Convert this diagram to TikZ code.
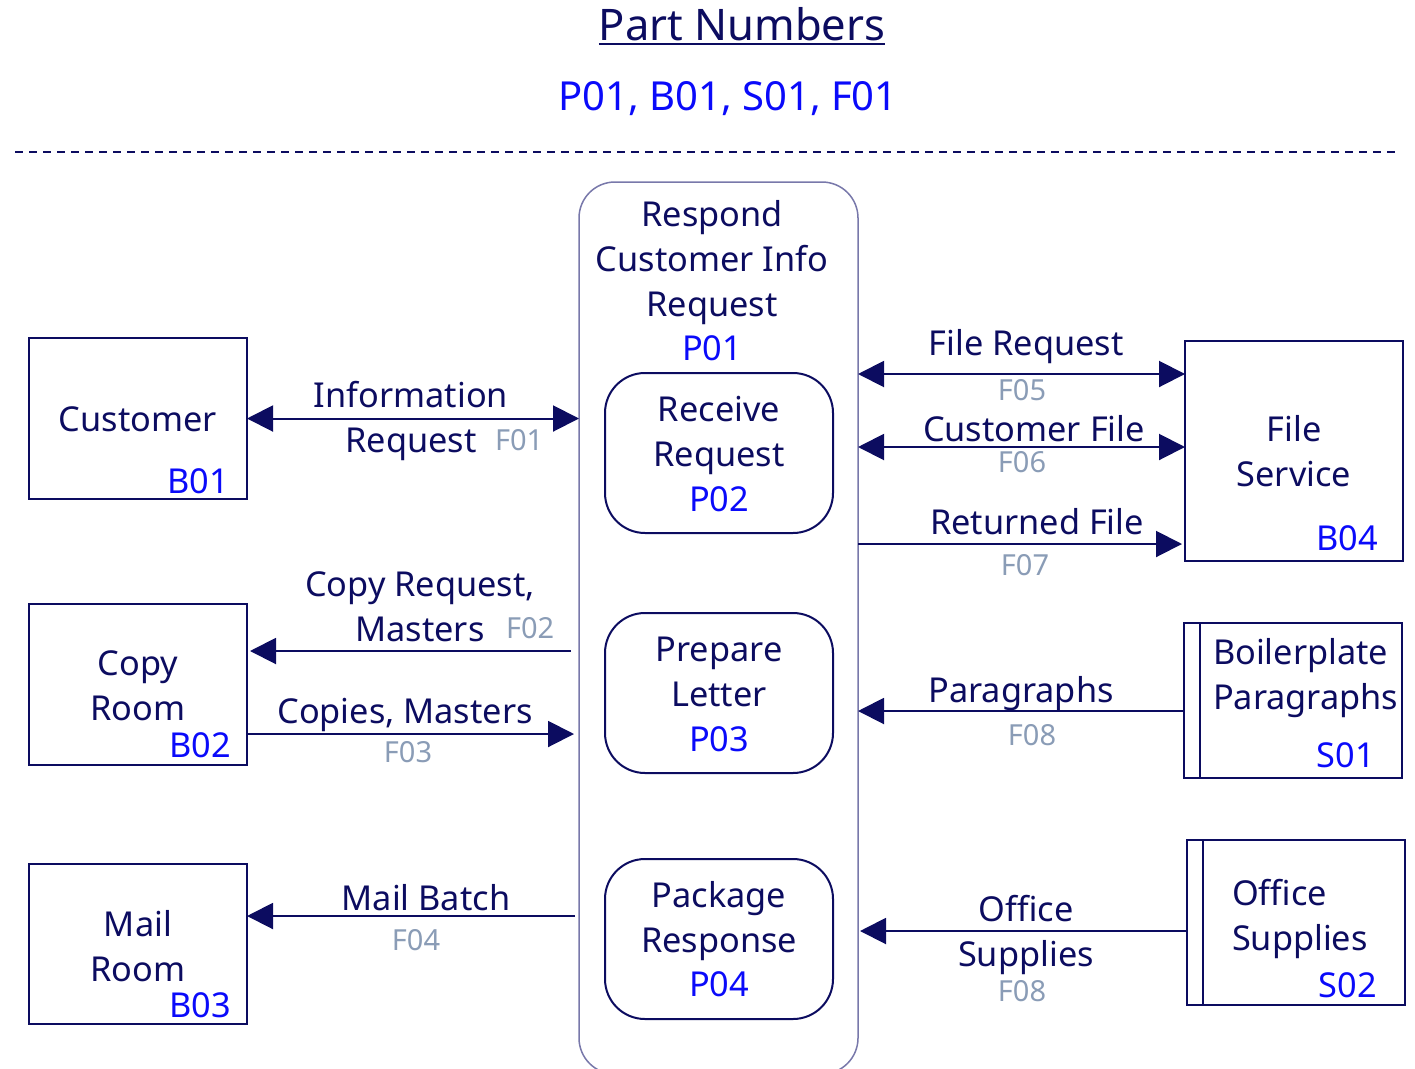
\documentclass[tikz,border=0pt]{standalone}
\usepackage{fontspec}
\setmainfont{Noto Sans}
\usetikzlibrary{arrows.meta}
\definecolor{navy}{RGB}{12,12,96}
\definecolor{codeblue}{RGB}{10,10,250}
\definecolor{fgray}{RGB}{138,156,182}
\definecolor{outerline}{RGB}{120,120,170}
\begin{document}
\begin{tikzpicture}[x=1pt,y=-1pt,
  every node/.style={inner sep=0pt, outer sep=0pt},
  txt/.style={font=\fontsize{34.3}{45}\selectfont, text=navy, align=center, anchor=base},
  code/.style={font=\fontsize{34.3}{45}\selectfont, text=codeblue, anchor=base},
  fcode/.style={font=\fontsize{29}{34}\selectfont, text=fgray, anchor=base},
  ext/.style={draw=navy, line width=2.5pt, minimum width=218pt},
  store/.style={draw=navy, line width=2.5pt, minimum width=218pt},
  proc/.style={draw=navy, line width=2pt, rounded corners=40pt, minimum width=228pt, minimum height=160pt},
  flow/.style={draw=navy, line width=2pt, -{Triangle[length=26pt,width=26pt]}},
  flowb/.style={draw=navy, line width=2pt, {Triangle[length=26pt,width=26pt]}-{Triangle[length=26pt,width=26pt]}},
]
\useasboundingbox (0,0) rectangle (1415,1068);
\clip (0,0) rectangle (1415,1068);

% title
\node[font=\fontsize{43.5}{50}\selectfont, text=navy, anchor=base] (title) at (742,40) {Part Numbers};
\draw[navy, line width=2pt] ([yshift=-4pt]title.base west) -- ([yshift=-4pt]title.base east);
\node[font=\fontsize{40}{45}\selectfont, text=codeblue, anchor=base] (parts) at (728,110) {P01, B01, S01, F01};
\coordinate (dl) at (15,152);
\coordinate (dr) at (1400,152);
\draw[navy, line width=1.5pt, dash pattern=on 8pt off 6pt] (dl) -- (dr);

% outer process
\node[draw=outerline, line width=1.5pt, rounded corners=36pt, minimum width=279pt, minimum height=892pt] (p01) at (718.5,628) {};
\node[txt] (p01t) at (712,316) {Respond\\Customer Info\\Request};
\node[code] (p01c) at (712,360) {P01};

% inner processes
\node[proc] (p02) at (719,453) {};
\node[txt] (p02t) at (719,466) {Receive\\Request};
\node[code] (p02c) at (719,511) {P02};
\node[proc] (p03) at (719,693) {};
\node[txt] (p03t) at (719,706) {Prepare\\Letter};
\node[code] (p03c) at (719,751) {P03};
\node[proc] (p04) at (719,939) {};
\node[txt] (p04t) at (719,952) {Package\\Response};
\node[code] (p04c) at (719,996) {P04};

% left externals
\node[ext, minimum height=161pt] (cust) at (138,418.5) {};
\node[txt] (custt) at (138,431) {Customer};
\node[code, anchor=base east] (custc) at (229,493) {B01};
\node[ext, minimum height=161pt] (copy) at (138,684.5) {};
\node[txt] (copyt) at (138,720) {Copy\\Room};
\node[code, anchor=base east] (copyc) at (231,757) {B02};
\node[ext, minimum height=160pt] (mail) at (138,944) {};
\node[txt] (mailt) at (138,981) {Mail\\Room};
\node[code, anchor=base east] (mailc) at (231,1017) {B03};

% right externals
\node[ext, minimum height=220pt] (file) at (1294,451) {};
\node[txt] (filet) at (1294,486) {File\\Service};
\node[code, anchor=base east] (filec) at (1378,550) {B04};
\node[store, minimum height=155pt] (para) at (1293,700.5) {};
\draw[navy, line width=2pt] ([xshift=16pt]para.north west) -- ([xshift=16pt]para.south west);
\node[txt, align=left, anchor=base west] (parat) at (1213,709) {Boilerplate\\Paragraphs};
\node[code, anchor=base east] (parac) at (1375,767) {S01};
\node[store, minimum height=165pt] (office) at (1296,922.5) {};
\draw[navy, line width=2pt] ([xshift=16pt]office.north west) -- ([xshift=16pt]office.south west);
\node[txt, align=left, anchor=base west] (officet) at (1232,950) {Office\\Supplies};
\node[code, anchor=base east] (officec) at (1377,997) {S02};

% flows left
\draw[flowb] (cust.east) -- (cust.east -| p01.west);
\node[txt] (f01a) at (411,407) {Information};
\node[txt] (f01b) at (411,452) {Request};
\node[fcode, anchor=base west] (f01c) at (495,450) {F01};

\draw[flow, shorten <=8pt, shorten >=3pt] ([yshift=33.5pt]copy.east -| p01.west) -- ([yshift=33.5pt]copy.east);
\node[txt] (f02a) at (420,641) {Copy Request,\\Masters};
\node[fcode, anchor=base west] (f02c) at (506,638) {F02};

\draw[flow, shorten >=5pt] ([yshift=-49.5pt]copy.east) -- ([yshift=-49.5pt]copy.east -| p01.west);
\node[txt] (f03a) at (405,723) {Copies, Masters};
\node[fcode] (f03c) at (408,762) {F03};

\draw[flow, shorten <=4pt] ([yshift=28pt]mail.east -| p01.west) -- ([yshift=28pt]mail.east);
\node[txt] (f04a) at (426,910) {Mail Batch};
\node[fcode] (f04c) at (416,950) {F04};

% flows right
\draw[flowb] ([yshift=77pt]file.west -| p01.east) -- ([yshift=77pt]file.west);
\node[txt] (f05a) at (1026,355) {File Request};
\node[fcode] (f05c) at (1022,400) {F05};

\draw[flowb] ([yshift=4pt]file.west -| p01.east) -- ([yshift=4pt]file.west);
\node[txt] (f06a) at (1034,441) {Customer File};
\node[fcode] (f06c) at (1022,472) {F06};

\draw[flow, shorten >=3pt] ([yshift=-93pt]file.west -| p01.east) -- ([yshift=-93pt]file.west);
\node[txt] (f07a) at (1037,534) {Returned File};
\node[fcode] (f07c) at (1025,575) {F07};

\draw[flow] ([yshift=-10.5pt]para.west) -- ([yshift=-10.5pt]para.west -| p01.east);
\node[txt] (f08a) at (1021,702) {Paragraphs};
\node[fcode] (f08c) at (1032,745) {F08};

\draw[flow, shorten >=2pt] ([yshift=-8.5pt]office.west) -- ([yshift=-8.5pt]office.west -| p01.east);
\node[txt] (f09a) at (1026,966) {Office\\Supplies};
\node[fcode] (f09c) at (1022,1001) {F08};
\end{tikzpicture}
\end{document}
